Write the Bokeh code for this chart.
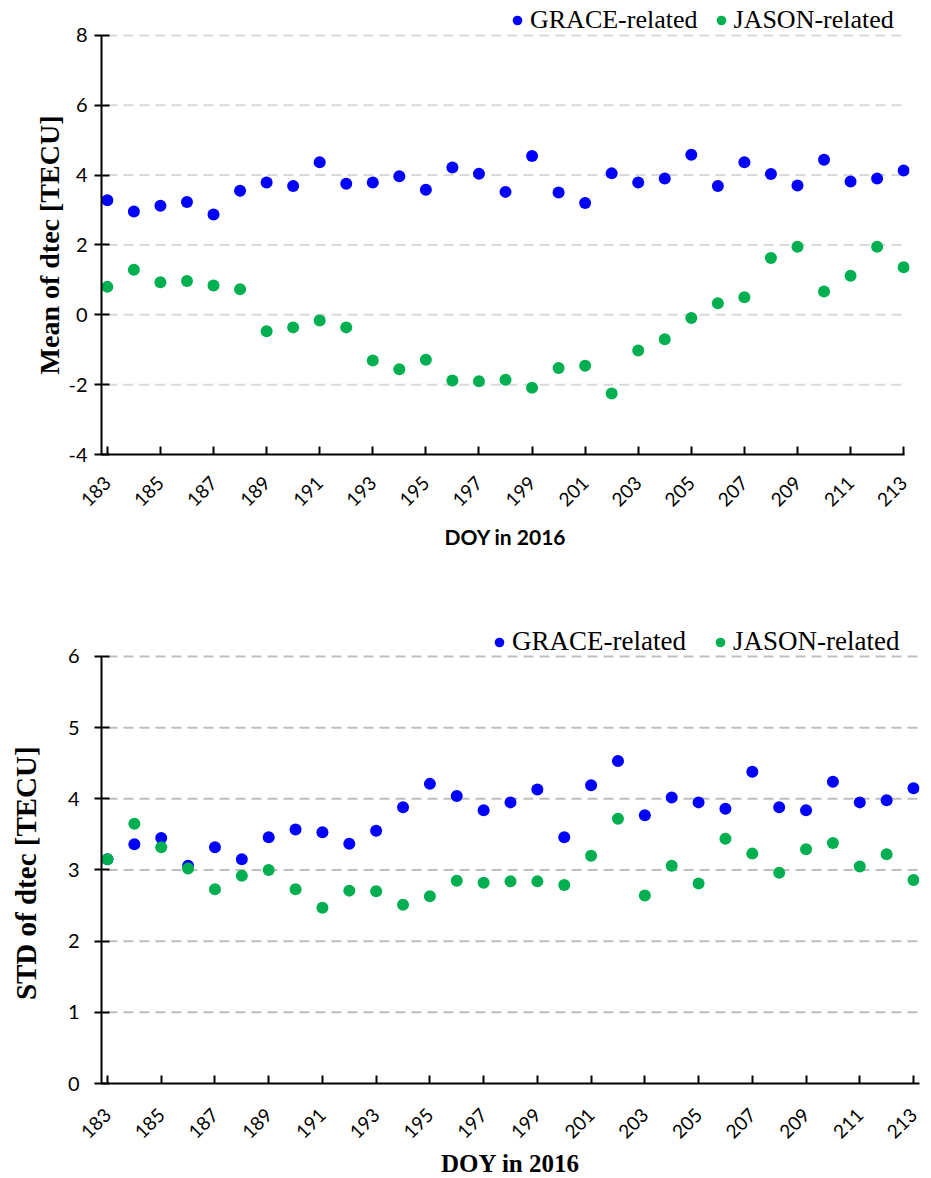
import math
from bokeh.plotting import figure
from bokeh.models import Range1d, FixedTicker, Legend, LegendItem
from bokeh.layouts import column
from bokeh.embed import file_html
from bokeh.resources import INLINE

# ---------------- data ----------------
doy = list(range(183, 214))
mean_grace = [3.28, 2.96, 3.12, 3.23, 2.87, 3.55, 3.79, 3.69, 4.37, 3.75,
              3.79, 3.97, 3.58, 4.22, 4.04, 3.52, 4.55, 3.50, 3.20, 4.05,
              3.79, 3.90, 4.58, 3.69, 4.37, 4.03, 3.70, 4.44, 3.82, 3.90, 4.13]
mean_jason = [0.80, 1.29, 0.93, 0.97, 0.84, 0.73, -0.47, -0.36, -0.16, -0.36,
              -1.31, -1.56, -1.29, -1.88, -1.90, -1.86, -2.09, -1.52, -1.46, -2.25,
              -1.02, -0.70, -0.09, 0.33, 0.50, 1.63, 1.95, 0.67, 1.12, 1.95, 1.36]
std_grace = [3.15, 3.36, 3.45, 3.06, 3.32, 3.15, 3.46, 3.57, 3.53, 3.37,
             3.55, 3.88, 4.21, 4.04, 3.84, 3.95, 4.13, 3.46, 4.19, 4.53,
             3.77, 4.02, 3.95, 3.86, 4.38, 3.88, 3.84, 4.24, 3.95, 3.98, 4.15]
std_jason = [3.15, 3.65, 3.32, 3.02, 2.73, 2.92, 3.00, 2.73, 2.47, 2.71,
             2.70, 2.51, 2.63, 2.85, 2.82, 2.84, 2.84, 2.79, 3.20, 3.72,
             2.64, 3.06, 2.81, 3.44, 3.23, 2.96, 3.29, 3.38, 3.05, 3.22, 2.86]
x_ticks = list(range(183, 214, 2))
mean_y_ticks = [-4, -2, 0, 2, 4, 6, 8]
std_y_ticks = [0, 1, 2, 3, 4, 5, 6]
series_names = ["GRACE-related", "JASON-related"]
series_colors = ["#0000FF", "#00B050"]

SANS = "Lato"
SERIF = "Liberation Serif"
NBSP = "\u00a0"


def make_plot(y_grace, y_jason, y_ticks, x_lim, y_top, x_axis_bounds, grid_end,
              y_title, title_pad, frame, borders,
              legend_font, legend_loc, legend_spacing, grid_color,
              xtitle_font, xtitle_size, ytitle_size,
              ylab_standoff, ytitle_standoff, xlabel_standoff, xtitle_standoff):
    left, right, top, bottom = borders
    fw, fh = frame
    p = figure(frame_width=fw, frame_height=fh,
               output_backend="svg", toolbar_location=None,
               x_range=Range1d(*x_lim),
               y_range=Range1d(y_ticks[0], y_top),
               min_border_left=left, min_border_right=right,
               min_border_top=top, min_border_bottom=bottom)
    p.outline_line_color = None
    p.background_fill_color = "white"
    p.border_fill_color = "white"

    # horizontal dashed grid, starting at the first day
    n = len(y_ticks) - 1
    p.segment(x0=[x_ticks[0]] * n, y0=y_ticks[1:], x1=[grid_end] * n, y1=y_ticks[1:],
              line_color=grid_color, line_width=2, line_dash="10 6")

    r1 = p.scatter(doy, y_grace, size=12, marker="circle",
                   fill_color=series_colors[0], line_color=None)
    r2 = p.scatter(doy, y_jason, size=12, marker="circle",
                   fill_color=series_colors[1], line_color=None)

    # x axis
    xa = p.xaxis[0]
    if x_axis_bounds is not None:
        xa.bounds = x_axis_bounds
    xa.ticker = FixedTicker(ticks=x_ticks)
    xa.minor_tick_line_color = None
    xa.major_tick_in = 8
    xa.major_tick_out = 0
    xa.major_tick_line_width = 2
    xa.axis_line_width = 2
    xa.axis_line_color = "black"
    xa.major_tick_line_color = "black"
    xa.major_label_orientation = math.pi / 4
    xa.major_label_text_font = SANS
    xa.major_label_text_font_size = "19px"
    xa.major_label_text_color = "black"
    xa.major_label_standoff = xlabel_standoff
    xa.axis_label = "DOY in 2016"
    xa.axis_label_text_font = xtitle_font
    xa.axis_label_text_font_size = xtitle_size
    xa.axis_label_text_font_style = "bold"
    xa.axis_label_text_color = "black"
    xa.axis_label_standoff = xtitle_standoff

    # y axis (line limited to the tick span; room above it holds the legend)
    ya = p.yaxis[0]
    ya.bounds = (y_ticks[0], y_ticks[-1])
    ya.ticker = FixedTicker(ticks=y_ticks)
    ya.major_label_overrides = {t: str(t) for t in y_ticks}
    ya.minor_tick_line_color = None
    ya.major_tick_in = 8
    ya.major_tick_out = 7
    ya.major_tick_line_width = 2
    ya.axis_line_width = 2
    ya.axis_line_color = "black"
    ya.major_tick_line_color = "black"
    ya.major_label_text_font = SANS
    ya.major_label_text_font_size = "20px"
    ya.major_label_text_color = "black"
    ya.major_label_standoff = ylab_standoff
    # trailing no-break spaces re-centre the title on the axis span (not the taller frame)
    ya.axis_label = y_title + NBSP * title_pad
    ya.axis_label_text_font = SERIF
    ya.axis_label_text_font_size = ytitle_size
    ya.axis_label_text_font_style = "bold"
    ya.axis_label_text_color = "black"
    ya.axis_label_standoff = ytitle_standoff

    p.xgrid.grid_line_color = None
    p.ygrid.grid_line_color = None

    legend = Legend(items=[LegendItem(label=series_names[0], renderers=[r1]),
                           LegendItem(label=series_names[1], renderers=[r2])],
                    orientation="horizontal", location=legend_loc)
    legend.label_text_font = SERIF
    legend.label_text_font_size = legend_font
    legend.label_text_color = "black"
    legend.glyph_width = 24
    legend.glyph_height = 24
    legend.label_standoff = 1
    legend.spacing = legend_spacing
    legend.padding = 0
    legend.margin = 0
    legend.border_line_color = None
    legend.background_fill_alpha = 0
    p.add_layout(legend, "center")
    return p


# both frames start at x=101 (column aligns them).
# top: frame x 101..909, y 0..454 (8 at 35) ; bottom: frame x 101..919, y 590..1083 (6 at 656)
p1 = make_plot(mean_grace, mean_jason, mean_y_ticks, (182.78, 213.22), 9.0,
               (182.78, 213.05), 213.05,
               "Mean of dtec [TECU]", 5,
               (808, 454), (101, 22, 0, 136), "26px", (404, 419), 11, "#D9D9D9",
               SANS, "21px", "28px", 7, 0, 25, 8)
p2 = make_plot(std_grace, std_jason, std_y_ticks, (182.777, 213.223), 6.927,
               None, 213.223,
               "STD of dtec [TECU]", 10,
               (818, 493), (101, 12, 0, 95), "27px", (386, 426), 22, "#BFBFBF",
               SERIF, "25px", "29px", 15, 23, 28, 2)

layout = column(p1, p2, spacing=0)
open("out.html", "w").write(file_html(layout, INLINE))
